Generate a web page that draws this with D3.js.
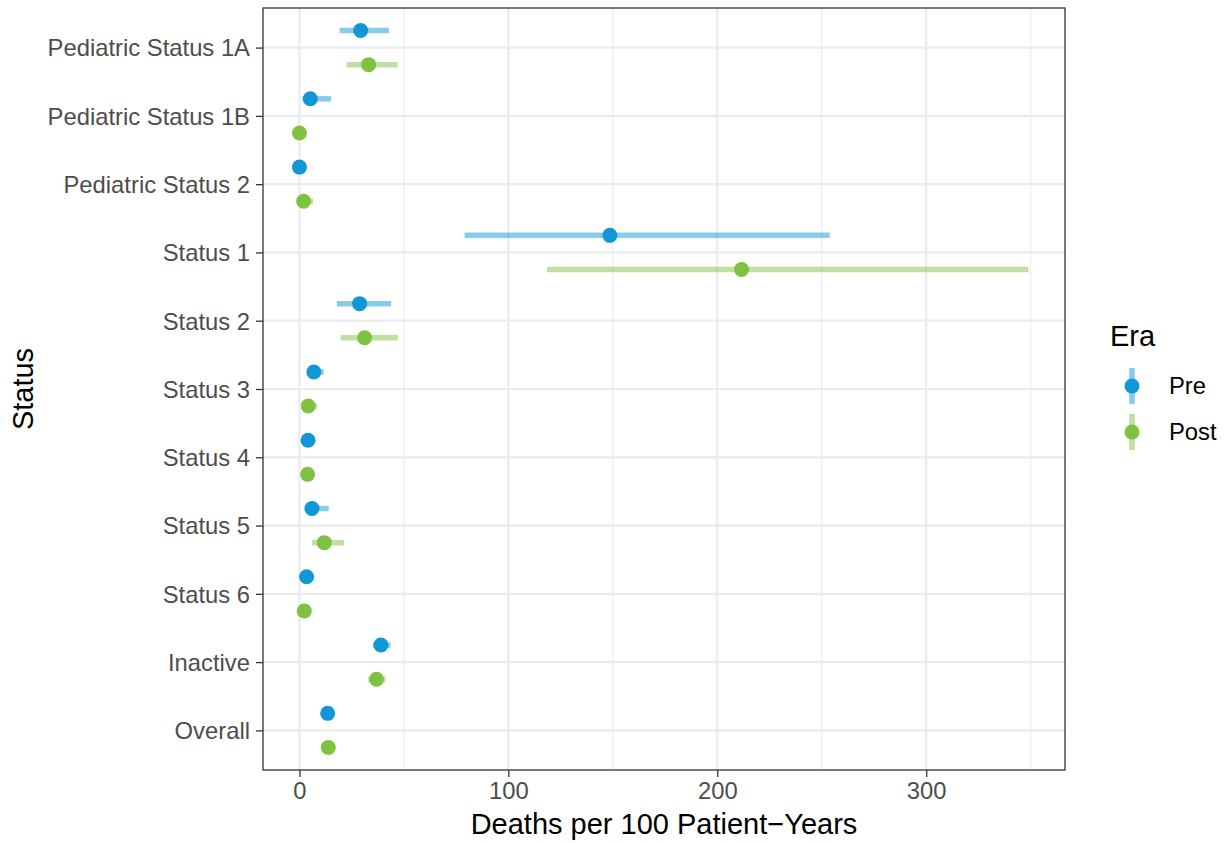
<!DOCTYPE html>
<html>
<head>
<meta charset="utf-8">
<script src="https://cdn.jsdelivr.net/npm/d3@7"></script>
<style>
  body { margin: 0; background: #fff; }
  svg text { font-family: "Liberation Sans", Arial, sans-serif; }
</style>
</head>
<body>
<svg id="chart" width="1224" height="843"></svg>
<script>
// categories top to bottom
const categories = [
  "Pediatric Status 1A", "Pediatric Status 1B", "Pediatric Status 2",
  "Status 1", "Status 2", "Status 3", "Status 4", "Status 5", "Status 6",
  "Inactive", "Overall"
];
const eras = ["Pre", "Post"];

// deaths per 100 patient-years, with confidence limits
const preRate  = [29.3, 5.2, 0.0, 148.6, 28.8, 6.9, 4.1, 6.0, 3.4, 39.0, 13.5];
const preLow   = [19.2, 1.5, 0.0, 79.1, 17.9, 4.0, 2.5, 2.5, 1.8, 35.2, 12.3];
const preHigh  = [42.8, 15.2, 0.0, 253.8, 43.9, 11.6, 6.0, 14.0, 5.5, 43.6, 14.8];
const postRate = [33.1, 0.0, 2.0, 211.6, 31.2, 4.2, 3.9, 11.9, 2.3, 36.9, 13.8];
const postLow  = [22.6, 0.0, 0.3, 118.5, 19.7, 2.0, 2.3, 6.1, 1.0, 33.0, 12.8];
const postHigh = [47.0, 0.0, 6.5, 349.0, 47.1, 8.5, 6.0, 21.4, 4.3, 41.2, 14.9];

const xTicks = [0, 100, 200, 300];
const xMinor = [50, 150, 250, 350];

// build rows
const rows = [];
categories.forEach((c, i) => {
  rows.push({ status: c, era: "Pre", rate: preRate[i], lo: preLow[i], hi: preHigh[i] });
  rows.push({ status: c, era: "Post", rate: postRate[i], lo: postLow[i], hi: postHigh[i] });
});

const colors = { Pre: "#1197d6", Post: "#7fc242" };

const margin = { top: 8, right: 159, bottom: 73, left: 263 };
const width = 1224 - margin.left - margin.right;
const height = 843 - margin.top - margin.bottom;

const svg = d3.select("#chart");
const g = svg.append("g").attr("transform", `translate(${margin.left},${margin.top})`);

// x scale with ggplot-like 5% expansion
const ext = [d3.min(rows, d => d.lo), d3.max(rows, d => d.hi)];
const pad = (ext[1] - ext[0]) * 0.05;
const x = d3.scaleLinear().domain([ext[0] - pad, ext[1] + pad]).range([0, width]);

const y = d3.scalePoint().domain(categories).range([0, height]).padding(0.58);
const dodge = y.step() * 0.25;
const yPos = d => y(d.status) + (d.era === "Pre" ? -dodge : dodge);

// grid
g.selectAll(".minor").data(xMinor).join("line")
  .attr("x1", d => x(d)).attr("x2", d => x(d))
  .attr("y1", 0).attr("y2", height)
  .attr("stroke", "#ebebeb").attr("stroke-width", 1.1);
g.selectAll(".vmajor").data(xTicks).join("line")
  .attr("x1", d => x(d)).attr("x2", d => x(d))
  .attr("y1", 0).attr("y2", height)
  .attr("stroke", "#ebebeb").attr("stroke-width", 2.2);
g.selectAll(".hmajor").data(categories).join("line")
  .attr("x1", 0).attr("x2", width)
  .attr("y1", d => y(d)).attr("y2", d => y(d))
  .attr("stroke", "#ebebeb").attr("stroke-width", 2.2);

// error bars
g.selectAll(".err").data(rows).join("line")
  .attr("x1", d => x(d.lo)).attr("x2", d => x(d.hi))
  .attr("y1", yPos).attr("y2", yPos)
  .attr("stroke", d => colors[d.era])
  .attr("stroke-opacity", 0.5)
  .attr("stroke-width", 5.5);

// points
g.selectAll(".pt").data(rows).join("circle")
  .attr("cx", d => x(d.rate))
  .attr("cy", yPos)
  .attr("r", 7.5)
  .attr("fill", d => colors[d.era]);

// panel border
g.append("rect")
  .attr("width", width).attr("height", height)
  .attr("fill", "none").attr("stroke", "#333333").attr("stroke-width", 1.3);

// axes
const xAxis = g.append("g")
  .attr("transform", `translate(0,${height})`)
  .call(d3.axisBottom(x).tickValues(xTicks).tickSize(7).tickPadding(5).tickFormat(d3.format("d")));
const yAxis = g.append("g")
  .call(d3.axisLeft(y).tickSize(7).tickPadding(6));
[xAxis, yAxis].forEach(a => {
  a.select(".domain").remove();
  a.selectAll(".tick line").attr("stroke", "#333333").attr("stroke-width", 1.3);
  a.selectAll(".tick text")
    .attr("fill", "#4d4d4d")
    .style("font-size", "23.8px")
    .style("font-family", "Liberation Sans, Arial, sans-serif");
});
xAxis.selectAll(".tick text").attr("dy", "0.72em");
yAxis.selectAll(".tick text").attr("dy", "0.35em");

// axis titles
svg.append("text")
  .attr("x", margin.left + width / 2)
  .attr("y", 834)
  .attr("text-anchor", "middle")
  .style("font-size", "29px")
  .text("Deaths per 100 Patient\u2212Years");

svg.append("text")
  .attr("transform", `translate(33,${margin.top + height / 2}) rotate(-90)`)
  .attr("text-anchor", "middle")
  .style("font-size", "29px")
  .text("Status");

// legend
const legend = svg.append("g").attr("transform", "translate(1110,0)");
legend.append("text")
  .attr("x", 0).attr("y", 346)
  .style("font-size", "29px")
  .text("Era");

const keys = legend.selectAll(".key").data(eras).join("g")
  .attr("transform", (d, i) => `translate(22,${386 + i * 46})`);
keys.append("line")
  .attr("x1", 0).attr("x2", 0).attr("y1", -18).attr("y2", 18)
  .attr("stroke", d => colors[d]).attr("stroke-opacity", 0.5).attr("stroke-width", 5.5);
keys.append("circle").attr("r", 7.5).attr("fill", d => colors[d]);
keys.append("text")
  .attr("x", 37).attr("y", 0).attr("dy", "0.35em")
  .style("font-size", "23.8px")
  .text(d => d);
</script>
</body>
</html>
